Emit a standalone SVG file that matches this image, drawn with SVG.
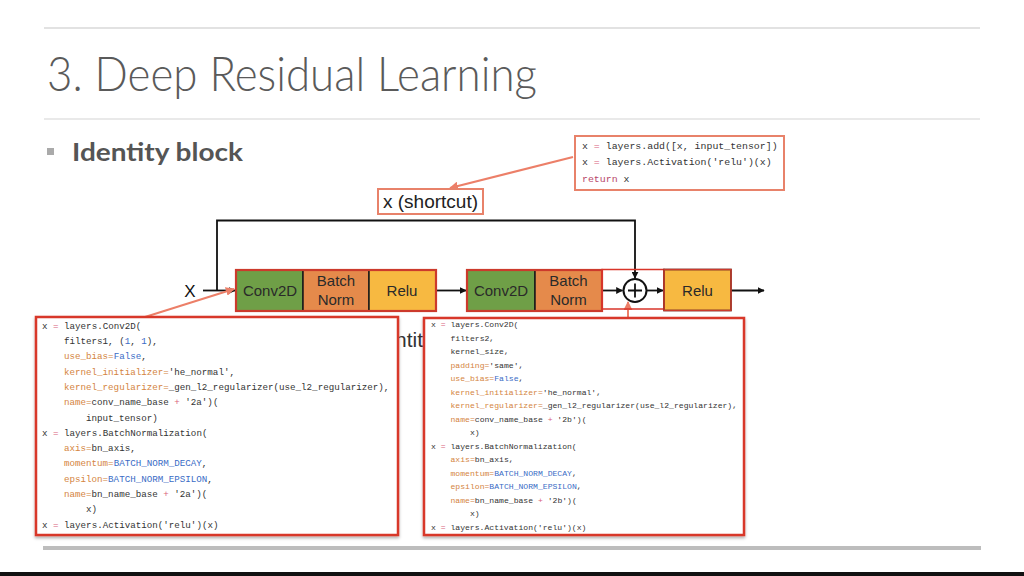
<svg xmlns="http://www.w3.org/2000/svg" width="1024" height="576" viewBox="0 0 1024 576">
<defs>
<style>
.code{font-family:"Liberation Mono","DejaVu Sans Mono",monospace;fill:#333}
.k{fill:#d4843e}
.b{fill:#3a6cc6}
.o{fill:#d9607a}
.r{fill:#b8466a}
.lbl{font-family:"Liberation Sans",Arial,sans-serif;fill:#2a2a2a;font-size:15px;text-anchor:middle}
.blk{stroke:#1a1a1a;stroke-width:1.5}
.outer{fill:none;stroke:#cc3a2c;stroke-width:2.2}
.cbox{fill:#fff;stroke:#d8372b;stroke-width:2.5}
.sbox{fill:#fff;stroke:#e8826a;stroke-width:2}
.wire{fill:none;stroke:#111;stroke-width:1.8}
.swire{fill:none;stroke:#ec7f68;stroke-width:2}
</style>
<marker id="ah" viewBox="0 0 10 10" refX="9" refY="5" markerWidth="7" markerHeight="7" orient="auto" markerUnits="userSpaceOnUse">
<path d="M0,0 L10,5 L0,10 z" fill="#111"/>
</marker>
<marker id="sah" viewBox="0 0 10 10" refX="9" refY="5" markerWidth="9" markerHeight="9" orient="auto" markerUnits="userSpaceOnUse">
<path d="M0,0 L10,5 L0,10 z" fill="#ec7f68"/>
</marker>
<filter id="sh" x="-5%" y="-5%" width="110%" height="115%">
<feDropShadow dx="0" dy="2" stdDeviation="1.5" flood-color="#000" flood-opacity="0.3"/>
</filter>
</defs>
<rect width="1024" height="576" fill="#fff"/>
<!-- slide frame -->
<g id="frame">
<line x1="44" y1="28" x2="980" y2="28" stroke="#e2e2e2" stroke-width="2"/>
<text x="47" y="91" font-family="Lato,'Open Sans',sans-serif" font-weight="300" font-size="48" fill="#5a5a5a" textLength="490" lengthAdjust="spacingAndGlyphs">3. Deep Residual Learning</text>
<line x1="44" y1="119" x2="980" y2="119" stroke="#e2e2e2" stroke-width="1.5"/>
<rect x="47" y="148" width="7" height="7" fill="#aaa"/>
<text x="72" y="161" font-family="Lato,'Open Sans',sans-serif" font-weight="700" font-size="24" fill="#555" textLength="171" lengthAdjust="spacingAndGlyphs">Identity block</text>
<text x="395" y="347" font-family="'Liberation Sans',Arial,sans-serif" font-size="21" fill="#333">ntit</text>
<rect x="43" y="546" width="938" height="4" fill="#bdbdbd"/>
<rect x="0" y="572" width="1024" height="4" fill="#111"/>
</g>
<!-- connectors -->
<g id="connectors">
<path class="wire" d="M217,290.5 V220.5 H635 V278" marker-end="url(#ah)"/>
<path class="wire" d="M203,290.5 H235" marker-end="url(#ah)"/>
<path class="wire" d="M436,290.5 H466" marker-end="url(#ah)"/>
<path class="wire" d="M602,290.5 H622.5" marker-end="url(#ah)"/>
<path class="wire" d="M646.5,290.5 H663" marker-end="url(#ah)"/>
<path class="wire" d="M731,290.5 H764" marker-end="url(#ah)"/>
<path class="swire" d="M573,157 L450,188" marker-end="url(#sah)"/>
<path class="swire" d="M145,317 L234,289" marker-end="url(#sah)"/>
<path class="swire" d="M628,318 V302" marker-end="url(#sah)"/>
</g>
<!-- input label -->
<g id="input">
<text x="190" y="297" font-family="'Liberation Sans',Arial,sans-serif" font-size="17" fill="#111" text-anchor="middle">X</text>
</g>
<!-- block 1 -->
<g id="block1">
<rect x="236" y="270" width="67" height="41" fill="#6f9f47" class="blk"/>
<rect x="303" y="270" width="66" height="41" fill="#e58a4b" class="blk"/>
<rect x="369" y="270" width="67" height="41" fill="#f7b941" class="blk"/>
<rect x="236" y="270" width="200" height="41" class="outer"/>
<text class="lbl" x="270" y="296">Conv2D</text>
<text class="lbl" x="336" y="286">Batch</text>
<text class="lbl" x="336" y="305">Norm</text>
<text class="lbl" x="402" y="296">Relu</text>
</g>
<!-- block 2 -->
<g id="block2">
<rect x="467" y="270" width="68" height="41" fill="#6f9f47" class="blk"/>
<rect x="535" y="270" width="67" height="41" fill="#e58a4b" class="blk"/>
<rect x="467" y="270" width="135" height="41" class="outer"/>
<text class="lbl" x="501" y="296">Conv2D</text>
<text class="lbl" x="568.5" y="286">Batch</text>
<text class="lbl" x="568.5" y="305">Norm</text>
</g>
<!-- add node -->
<g id="add">
<rect x="602" y="269.5" width="62" height="39.5" fill="none" stroke="#d9352a" stroke-width="1.5"/>
<circle cx="635" cy="290.5" r="11.5" fill="#fff" stroke="#111" stroke-width="2"/>
<path d="M628,290.5 H642 M635,283.5 V297.5" stroke="#111" stroke-width="1.8"/>
</g>
<!-- relu out -->
<g id="relu-out">
<rect x="664" y="269.5" width="67" height="41" fill="#f7b941" class="blk"/>
<rect x="664" y="269.5" width="67" height="41" fill="none" stroke="#cc3a2c" stroke-width="1.5"/>
<text class="lbl" x="697.5" y="296">Relu</text>
</g>
<!-- shortcut label -->
<g id="shortcut-label">
<rect x="378" y="189" width="105" height="25" class="sbox"/>
<text x="430.5" y="207.5" font-family="'Liberation Sans',Arial,sans-serif" font-size="19" fill="#222" text-anchor="middle">x (shortcut)</text>
</g>
<!-- top code -->
<g id="code-add">
<rect x="575" y="136" width="209" height="54" class="sbox"/>
<text class="code" font-size="9.9">
<tspan x="582" y="148.5">x <tspan class="o">=</tspan> layers.add([x, input_tensor])</tspan>
<tspan x="582" y="164.5">x <tspan class="o">=</tspan> layers.Activation('relu')(x)</tspan>
<tspan x="582" y="181.5" class="r">return <tspan fill="#333">x</tspan></tspan>
</text>
</g>
<!-- left code -->
<g id="code-block1">
<rect x="36" y="317" width="362" height="218" class="cbox" filter="url(#sh)"/>
<text class="code" font-size="9.2">
<tspan x="42" y="328.5">x <tspan class="o">=</tspan> layers.Conv2D(</tspan>
<tspan x="64" y="344">filters1, (<tspan class="b">1</tspan>, <tspan class="b">1</tspan>),</tspan>
<tspan x="64" y="359.3"><tspan class="k">use_bias=</tspan><tspan class="b">False</tspan>,</tspan>
<tspan x="64" y="374.6"><tspan class="k">kernel_initializer=</tspan>'he_normal',</tspan>
<tspan x="64" y="389.9"><tspan class="k">kernel_regularizer=</tspan>_gen_l2_regularizer(use_l2_regularizer),</tspan>
<tspan x="64" y="405.2"><tspan class="k">name=</tspan>conv_name_base <tspan class="o">+</tspan> '2a')(</tspan>
<tspan x="86" y="420.5">input_tensor)</tspan>
<tspan x="42" y="435.8">x <tspan class="o">=</tspan> layers.BatchNormalization(</tspan>
<tspan x="64" y="451.1"><tspan class="k">axis=</tspan>bn_axis,</tspan>
<tspan x="64" y="466.4"><tspan class="k">momentum=</tspan><tspan class="b">BATCH_NORM_DECAY</tspan>,</tspan>
<tspan x="64" y="481.7"><tspan class="k">epsilon=</tspan><tspan class="b">BATCH_NORM_EPSILON</tspan>,</tspan>
<tspan x="64" y="497"><tspan class="k">name=</tspan>bn_name_base <tspan class="o">+</tspan> '2a')(</tspan>
<tspan x="86" y="512.3">x)</tspan>
<tspan x="42" y="527.6">x <tspan class="o">=</tspan> layers.Activation('relu')(x)</tspan>
</text>
</g>
<!-- right code -->
<g id="code-block2">
<rect x="424" y="318" width="320" height="217" class="cbox" filter="url(#sh)"/>
<text class="code" font-size="8.1">
<tspan x="431" y="327">x <tspan class="o">=</tspan> layers.Conv2D(</tspan>
<tspan x="450.5" y="340.5">filters2,</tspan>
<tspan x="450.5" y="354">kernel_size,</tspan>
<tspan x="450.5" y="367.5"><tspan class="k">padding=</tspan>'same',</tspan>
<tspan x="450.5" y="381"><tspan class="k">use_bias=</tspan><tspan class="b">False</tspan>,</tspan>
<tspan x="450.5" y="394.5"><tspan class="k">kernel_initializer=</tspan>'he_normal',</tspan>
<tspan x="450.5" y="408"><tspan class="k">kernel_regularizer=</tspan>_gen_l2_regularizer(use_l2_regularizer),</tspan>
<tspan x="450.5" y="421.5"><tspan class="k">name=</tspan>conv_name_base <tspan class="o">+</tspan> '2b')(</tspan>
<tspan x="470" y="435">x)</tspan>
<tspan x="431" y="448.5">x <tspan class="o">=</tspan> layers.BatchNormalization(</tspan>
<tspan x="450.5" y="462"><tspan class="k">axis=</tspan>bn_axis,</tspan>
<tspan x="450.5" y="475.5"><tspan class="k">momentum=</tspan><tspan class="b">BATCH_NORM_DECAY</tspan>,</tspan>
<tspan x="450.5" y="489"><tspan class="k">epsilon=</tspan><tspan class="b">BATCH_NORM_EPSILON</tspan>,</tspan>
<tspan x="450.5" y="502.5"><tspan class="k">name=</tspan>bn_name_base <tspan class="o">+</tspan> '2b')(</tspan>
<tspan x="470" y="516">x)</tspan>
<tspan x="431" y="529.5">x <tspan class="o">=</tspan> layers.Activation('relu')(x)</tspan>
</text>
</g>
</svg>
